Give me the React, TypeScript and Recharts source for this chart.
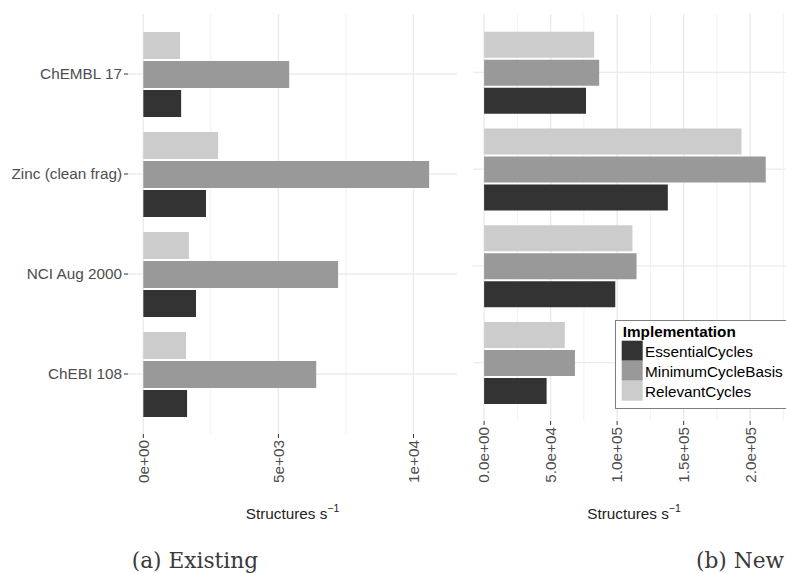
import React from 'react';
import { BarChart, Bar, XAxis, YAxis, CartesianGrid } from 'recharts';

const categories = ['ChEMBL 17', 'Zinc (clean frag)', 'NCI Aug 2000', 'ChEBI 108'];
const seriesNames = ['EssentialCycles', 'MinimumCycleBasis', 'RelevantCycles'];
const seriesColors = ['#333333', '#999999', '#cccccc'];
const legendTitle = 'Implementation';

// (a) Existing implementation, structures per second
const existingEssential = [1400, 2320, 1950, 1620];
const existingMCB = [5400, 10580, 7210, 6400];
const existingRelevant = [1360, 2770, 1690, 1580];

// (b) New implementation, structures per second
const newEssential = [76600, 138100, 98600, 47000];
const newMCB = [86500, 211700, 114600, 68300];
const newRelevant = [82700, 193500, 111500, 60700];

const existingTicks = [0, 5000, 10000];
const existingTickLabels = ['0e+00', '5e+03', '1e+04'];
const existingMinorTicks = [2500, 7500];
const newTicks = [0, 50000, 100000, 150000, 200000];
const newTickLabels = ['0.0e+00', '5.0e+04', '1.0e+05', '1.5e+05', '2.0e+05'];
const newMinorTicks = [25000, 75000, 125000, 175000, 225000];

const existingDomain = [-567, 11611];
const newDomain = [-8346, 233700];

const captions = ['(a) Existing', '(b) New'];
const axisTitle = 'Structures s';
const axisTitleSup = '\u22121';

const FONT = '"Liberation Sans", Arial, Helvetica, sans-serif';
const FS = 15.3;

const buildData = (ess: number[], mcb: number[], rel: number[]) =>
  categories.map((name, i) => ({
    name,
    [seriesNames[0]]: ess[i],
    [seriesNames[1]]: mcb[i],
    [seriesNames[2]]: rel[i],
  }));

const existingData = buildData(existingEssential, existingMCB, existingRelevant);
const newData = buildData(newEssential, newMCB, newRelevant);

const makeXTick = (ticks: number[], labels: string[]) => (props: any) => {
  const { x, y, payload } = props;
  const idx = ticks.indexOf(payload.value);
  const label = idx >= 0 ? labels[idx] : String(payload.value);
  return (
    <text
      x={x}
      y={y}
      transform={`rotate(-90 ${x} ${y})`}
      textAnchor="end"
      dy="0.35em"
      fill="#4d4d4d"
      fontSize={FS}
      fontFamily={FONT}
    >
      {label}
    </text>
  );
};

const makeTitle = (offset: number) => (props: any) => {
  const vb = props.viewBox || {};
  return (
    <text
      x={vb.x + vb.width / 2}
      y={vb.y + offset}
      textAnchor="middle"
      fill="#222"
      fontSize={FS}
      fontFamily={FONT}
    >
      {axisTitle}
      <tspan dy={-7} fontSize={10.5}>{axisTitleSup}</tspan>
    </text>
  );
};

const renderBars = () =>
  [2, 1, 0].map((i) => (
    <Bar
      key={seriesNames[i]}
      dataKey={seriesNames[i]}
      fill={seriesColors[i]}
      isAnimationActive={false}
    />
  ));

export default function App() {
  return (
    <div
      style={{
        position: 'absolute',
        left: 0,
        top: 0,
        width: 786,
        height: 573,
        overflow: 'hidden',
        background: '#fff',
      }}
    >
      <div style={{ position: 'absolute', left: 0, top: 0 }}>
        <BarChart
          width={470}
          height={540}
          data={existingData}
          layout="vertical"
          margin={{ top: 14, right: 13, bottom: 46, left: 0 }}
          barCategoryGap="8%"
          barGap={2}
        >
          <CartesianGrid
            xAxisId="minor"
            horizontal={false}
            vertical
            syncWithTicks
            stroke="#f2f2f2"
            strokeWidth={1}
          />
          <CartesianGrid stroke="#ebebeb" strokeWidth={1.4} syncWithTicks />
          <XAxis
            xAxisId="minor"
            type="number"
            hide
            domain={existingDomain}
            ticks={existingMinorTicks}
            allowDataOverflow
            interval={0}
          />
          <XAxis
            type="number"
            domain={existingDomain}
            ticks={existingTicks}
            allowDataOverflow
            axisLine={false}
            tickLine={{ stroke: '#333', strokeWidth: 1 }}
            tickSize={4}
            tickMargin={2}
            height={60}
            interval={0}
            tick={makeXTick(existingTicks, existingTickLabels)}
            label={{ content: makeTitle(85) }}
          />
          <YAxis
            type="category"
            dataKey="name"
            width={128}
            axisLine={false}
            tickLine={{ stroke: '#333', strokeWidth: 1 }}
            tickSize={4}
            tickMargin={2}
            padding={{ top: 10, bottom: 10 }}
            interval={0}
            tick={{ fill: '#4d4d4d', fontSize: FS, fontFamily: FONT }}
          />
          {renderBars()}
        </BarChart>
      </div>

      <div style={{ position: 'absolute', left: 473, top: 0 }}>
        <BarChart
          width={322}
          height={540}
          data={newData}
          layout="vertical"
          margin={{ top: 14, right: 0, bottom: 59, left: 0 }}
          barCategoryGap="8%"
          barGap={2}
        >
          <CartesianGrid
            xAxisId="minor"
            horizontal={false}
            vertical
            syncWithTicks
            stroke="#f2f2f2"
            strokeWidth={1}
          />
          <CartesianGrid stroke="#ebebeb" strokeWidth={1.4} syncWithTicks />
          <XAxis
            xAxisId="minor"
            type="number"
            hide
            domain={newDomain}
            ticks={newMinorTicks}
            allowDataOverflow
            interval={0}
          />
          <XAxis
            type="number"
            domain={newDomain}
            ticks={newTicks}
            allowDataOverflow
            axisLine={false}
            tickLine={{ stroke: '#333', strokeWidth: 1 }}
            tickSize={4}
            tickMargin={2}
            height={60}
            interval={0}
            tick={makeXTick(newTicks, newTickLabels)}
            label={{ content: makeTitle(98) }}
          />
          <YAxis
            type="category"
            dataKey="name"
            hide
            padding={{ top: 10, bottom: 10 }}
          />
          {renderBars()}
        </BarChart>
      </div>

      <svg
        width={786}
        height={573}
        style={{ position: 'absolute', left: 0, top: 0, pointerEvents: 'none' }}
      >
        <g>
          <rect x={615.5} y={320.5} width={190} height={88} fill="#fff" stroke="#7f7f7f" strokeWidth={1} />
          <text x={622.7} y={336.7} fontFamily={FONT} fontSize={FS} fontWeight="bold" fill="#000">
            {legendTitle}
          </text>
          {seriesNames.map((n, i) => (
            <g key={n}>
              <rect x={621.7} y={340.7 + i * 20} width={21} height={20} fill={seriesColors[i]} />
              <text x={645} y={356.5 + i * 20} fontFamily={FONT} fontSize={FS} fill="#000">
                {n}
              </text>
            </g>
          ))}
        </g>
        <text x={131.7} y={567.5} fontFamily='"DejaVu Serif", serif' fontSize={21.7} fill="#3a3a3a">
          {captions[0]}
        </text>
        <text x={696} y={567.5} fontFamily='"DejaVu Serif", serif' fontSize={21.7} fill="#3a3a3a">
          {captions[1]}
        </text>
      </svg>
    </div>
  );
}
